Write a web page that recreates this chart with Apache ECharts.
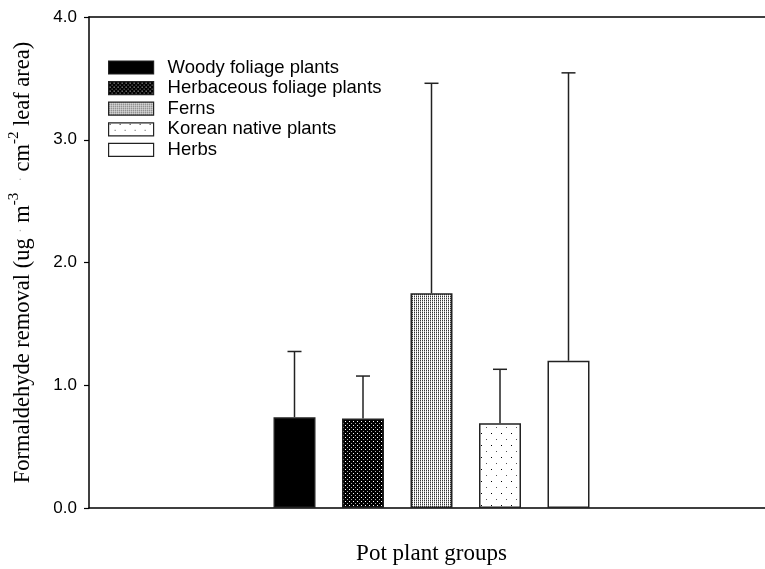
<!DOCTYPE html>
<html><head><meta charset="utf-8">
<script src="https://cdn.jsdelivr.net/npm/echarts@6/dist/echarts.min.js"></script>
<style>html,body{margin:0;padding:0;background:#fff}#c{width:765px;height:569px}</style>
</head><body><div id="c"></div>
<script>
const groups = ['Woody foliage plants','Herbaceous foliage plants','Ferns','Korean native plants','Herbs'];
const means = [0.74, 0.73, 1.75, 0.69, 1.20];
const sds = [0.535, 0.345, 1.71, 0.44, 2.345];
const padBefore = ['p0','p1','p2'];
const padAfter = ['q0','q1','q2'];
const yTicks = [0, 1, 2, 3, 4];
const categories = [...padBefore, ...groups, ...padAfter];

function pat(w, h, bg, dots) {
  const c = document.createElement('canvas');
  c.width = w; c.height = h;
  const x = c.getContext('2d');
  x.fillStyle = bg; x.fillRect(0, 0, w, h);
  dots.forEach(([dx, dy, col]) => { x.fillStyle = col; x.fillRect(dx, dy, 1, 1); });
  return { image: c, repeat: 'repeat' };
}
const fills = [
  '#000',
  pat(4, 4, '#000', [[1, 1, '#fff'], [3, 3, '#aaa']]),
  pat(2, 2, '#fff', [[0, 0, '#333'], [0, 1, '#aaa']]),
  pat(10, 12, '#fff', [[1, 1, '#000'], [6, 7, '#555']]),
  '#fff'
];

const chart = echarts.init(document.getElementById('c'));
const barSeries = groups.map((g, i) => ({
  name: g,
  type: 'bar',
  barWidth: 42,
  barGap: '-100%',
  data: [[g, means[i]]],
  itemStyle: { color: fills[i], borderColor: '#222', borderWidth: 1.5 },
  emphasis: { disabled: true },
  z: 2
}));
const errData = groups.map((g, i) => [g, means[i], means[i] + sds[i]]);

chart.setOption({
  animation: false,
  grid: { left: 89, right: -9, top: 17, bottom: 61, containLabel: false, outerBoundsMode: 'none' },
  legend: {
    data: groups,
    orient: 'vertical',
    left: 108, top: 58,
    padding: 0,
    icon: 'rect',
    itemWidth: 45, itemHeight: 13, itemGap: 1.6,
    textStyle: { fontFamily: 'Liberation Sans', fontSize: 18.5, lineHeight: 18, color: '#000', padding: [0, 0, 0, 9] },
    itemStyle: { borderColor: '#222', borderWidth: 1.2 }
  },
  xAxis: [{
    type: 'category', data: categories, boundaryGap: false,
    axisLine: { show: true, lineStyle: { color: '#000', width: 1.5 } },
    axisTick: { show: false }, axisLabel: { show: false }, splitLine: { show: false },
    name: 'Pot plant groups', nameLocation: 'middle', nameGap: 34,
    nameTextStyle: { fontFamily: 'Liberation Serif', fontSize: 23, color: '#000' }
  }, {
    type: 'category', data: categories, boundaryGap: false, position: 'top',
    axisLine: { show: true, lineStyle: { color: '#000', width: 1.5 } },
    axisTick: { show: false }, axisLabel: { show: false }, splitLine: { show: false }
  }],
  yAxis: {
    type: 'value', min: yTicks[0], max: yTicks[yTicks.length - 1], interval: 1,
    axisLine: { show: true, lineStyle: { color: '#000', width: 1.5 } },
    axisTick: { show: true, inside: false, length: 5, lineStyle: { color: '#000', width: 1.2 } },
    axisLabel: { formatter: v => v.toFixed(1), fontFamily: 'Liberation Sans', fontSize: 17, color: '#000', margin: 12 },
    splitLine: { show: false },
    name: '{a|Formaldehyde removal (ug }{d|·}{a| m}{s|-3}{a|  }{d|·}{a| cm}{s|-2}{a| leaf area)}',
    nameLocation: 'middle', nameGap: 54,
    nameTextStyle: {
      rich: {
        a: { fontFamily: 'Liberation Serif', fontSize: 22.5, color: '#000', verticalAlign: 'bottom' },
        s: { fontFamily: 'Liberation Serif', fontSize: 15, color: '#000', verticalAlign: 'top', padding: [0, 0, 13, 0] },
        d: { fontFamily: 'Liberation Serif', fontSize: 13, color: '#bbb' }
      }
    }
  },
  series: [...barSeries, {
    type: 'custom',
    name: 'err',
    data: errData,
    z: 5,
    encode: { x: 0, y: [1, 2] },
    renderItem: (params, api) => {
      const base = api.coord([api.value(0), api.value(1)]);
      const top = api.coord([api.value(0), api.value(2)]);
      const style = { stroke: '#222', lineWidth: 1.5 };
      return {
        type: 'group',
        children: [
          { type: 'line', shape: { x1: base[0], y1: base[1], x2: top[0], y2: top[1] }, style },
          { type: 'line', shape: { x1: top[0] - 7, y1: top[1], x2: top[0] + 7, y2: top[1] }, style }
        ]
      };
    }
  }]
});
</script></body></html>
